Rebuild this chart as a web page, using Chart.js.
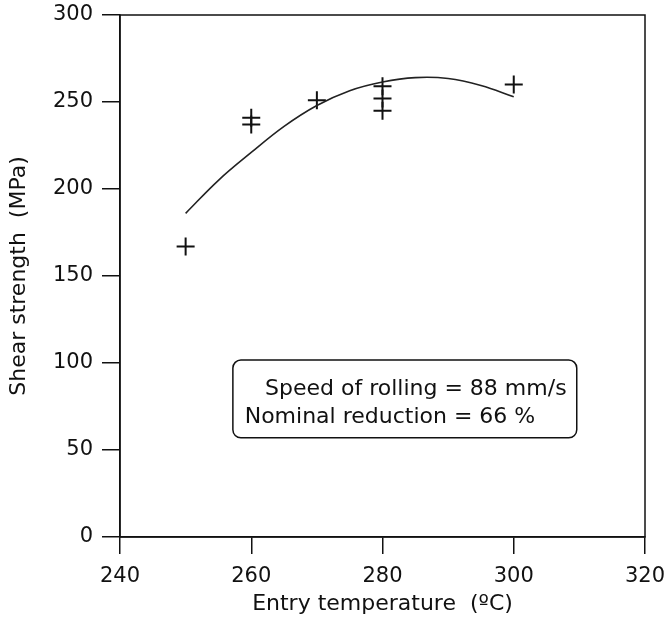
<!DOCTYPE html>
<html>
<head>
<meta charset="utf-8">
<script src="https://cdn.jsdelivr.net/npm/chart.js@4/dist/chart.umd.min.js"></script>
<style>
html,body{margin:0;padding:0;background:#fff;}
#wrap{width:669px;height:619px;}
</style>
</head>
<body>
<div id="wrap"><canvas id="c" width="669" height="619"></canvas></div>
<script>
// measured points: entry temperature (°C) and shear strength (MPa)
const pointTemps = [250, 260, 260, 270, 280, 280, 280, 300];
const pointShear = [167, 241, 237, 251, 259, 252, 245, 260];
// fitted curve
const curveTemps = [250, 255, 260, 265, 270, 275, 280, 285, 290, 295, 300];
const curveShear = [186, 205, 221, 236, 248, 256.5, 261.5, 264, 263.5, 259.5, 253];
// axis ticks
const xTicks = [240, 260, 280, 300, 320];
const yTicks = [0, 50, 100, 150, 200, 250, 300];
const xTitle = 'Entry temperature  (\u00BAC)';
const yTitle = 'Shear strength  (MPa)';
// annotation box text
const noteLines = ['Speed of rolling = 88 mm/s', 'Nominal reduction = 66 %'];

const FONT = 'DejaVu Sans, sans-serif';
const INK = '#111';

const frame = {
  id: 'frame',
  afterDatasetsDraw(chart) {
    const {ctx, chartArea: a, scales} = chart;
    ctx.save();
    ctx.strokeStyle = INK;
    ctx.lineWidth = 1.5;
    ctx.strokeRect(a.left, a.top, a.right - a.left, a.bottom - a.top);
    // annotation box, positioned in data units
    const x = scales.x, y = scales.y;
    const bl = x.getPixelForValue(257.2), br = x.getPixelForValue(309.6);
    const bt = y.getPixelForValue(101.7), bb = y.getPixelForValue(57);
    ctx.lineWidth = 1.5;
    ctx.beginPath();
    ctx.roundRect(bl, bt, br - bl, bb - bt, 8);
    ctx.stroke();
    ctx.fillStyle = INK;
    ctx.font = '22px ' + FONT;
    ctx.textAlign = 'left';
    ctx.textBaseline = 'alphabetic';
    ctx.fillText(noteLines[0], x.getPixelForValue(262.1), y.getPixelForValue(81.6));
    ctx.fillText(noteLines[1], x.getPixelForValue(259.0), y.getPixelForValue(65.7));
    ctx.restore();
  }
};

new Chart(document.getElementById('c'), {
  type: 'scatter',
  data: {
    datasets: [
      {
        type: 'line',
        data: curveTemps.map((t, i) => ({x: t, y: curveShear[i]})),
        borderColor: '#222',
        borderWidth: 1.6,
        pointRadius: 0,
        fill: false,
        tension: 0.4
      },
      {
        data: pointTemps.map((t, i) => ({x: t, y: pointShear[i]})),
        pointStyle: 'cross',
        pointRadius: 9,
        pointBorderWidth: 2,
        borderColor: INK,
        backgroundColor: INK
      }
    ]
  },
  plugins: [frame],
  options: {
    responsive: false,
    animation: false,
    devicePixelRatio: 1,
    layout: {padding: 0},
    plugins: {legend: {display: false}, tooltip: {enabled: false}},
    scales: {
      x: {
        type: 'linear',
        min: 240, max: 320,
        afterBuildTicks: s => { s.ticks = xTicks.map(v => ({value: v})); },
        afterFit: s => { s.height = 82; s.paddingLeft = 0; s.paddingRight = 24; },
        grid: {drawOnChartArea: false, drawTicks: true, tickLength: 17, color: INK, lineWidth: 1.5},
        border: {display: true, color: INK, width: 1.5},
        ticks: {color: INK, font: {family: FONT, size: 21}, padding: 10, maxRotation: 0},
        title: {display: true, text: xTitle, color: INK, font: {family: FONT, size: 22}, padding: {top: 0, bottom: 2}}
      },
      y: {
        type: 'linear',
        min: 0, max: 300,
        afterBuildTicks: s => { s.ticks = yTicks.map(v => ({value: v})); },
        afterFit: s => { s.width = 120; s.paddingTop = 15; s.paddingBottom = 0; },
        grid: {drawOnChartArea: false, drawTicks: true, tickLength: 18, color: INK, lineWidth: 1.5},
        border: {display: true, color: INK, width: 1.5},
        ticks: {color: INK, font: {family: FONT, size: 21}, padding: 9},
        title: {display: true, text: yTitle, color: INK, font: {family: FONT, size: 22}, padding: {top: 6, bottom: 0}}
      }
    }
  }
});
</script>
</body>
</html>
